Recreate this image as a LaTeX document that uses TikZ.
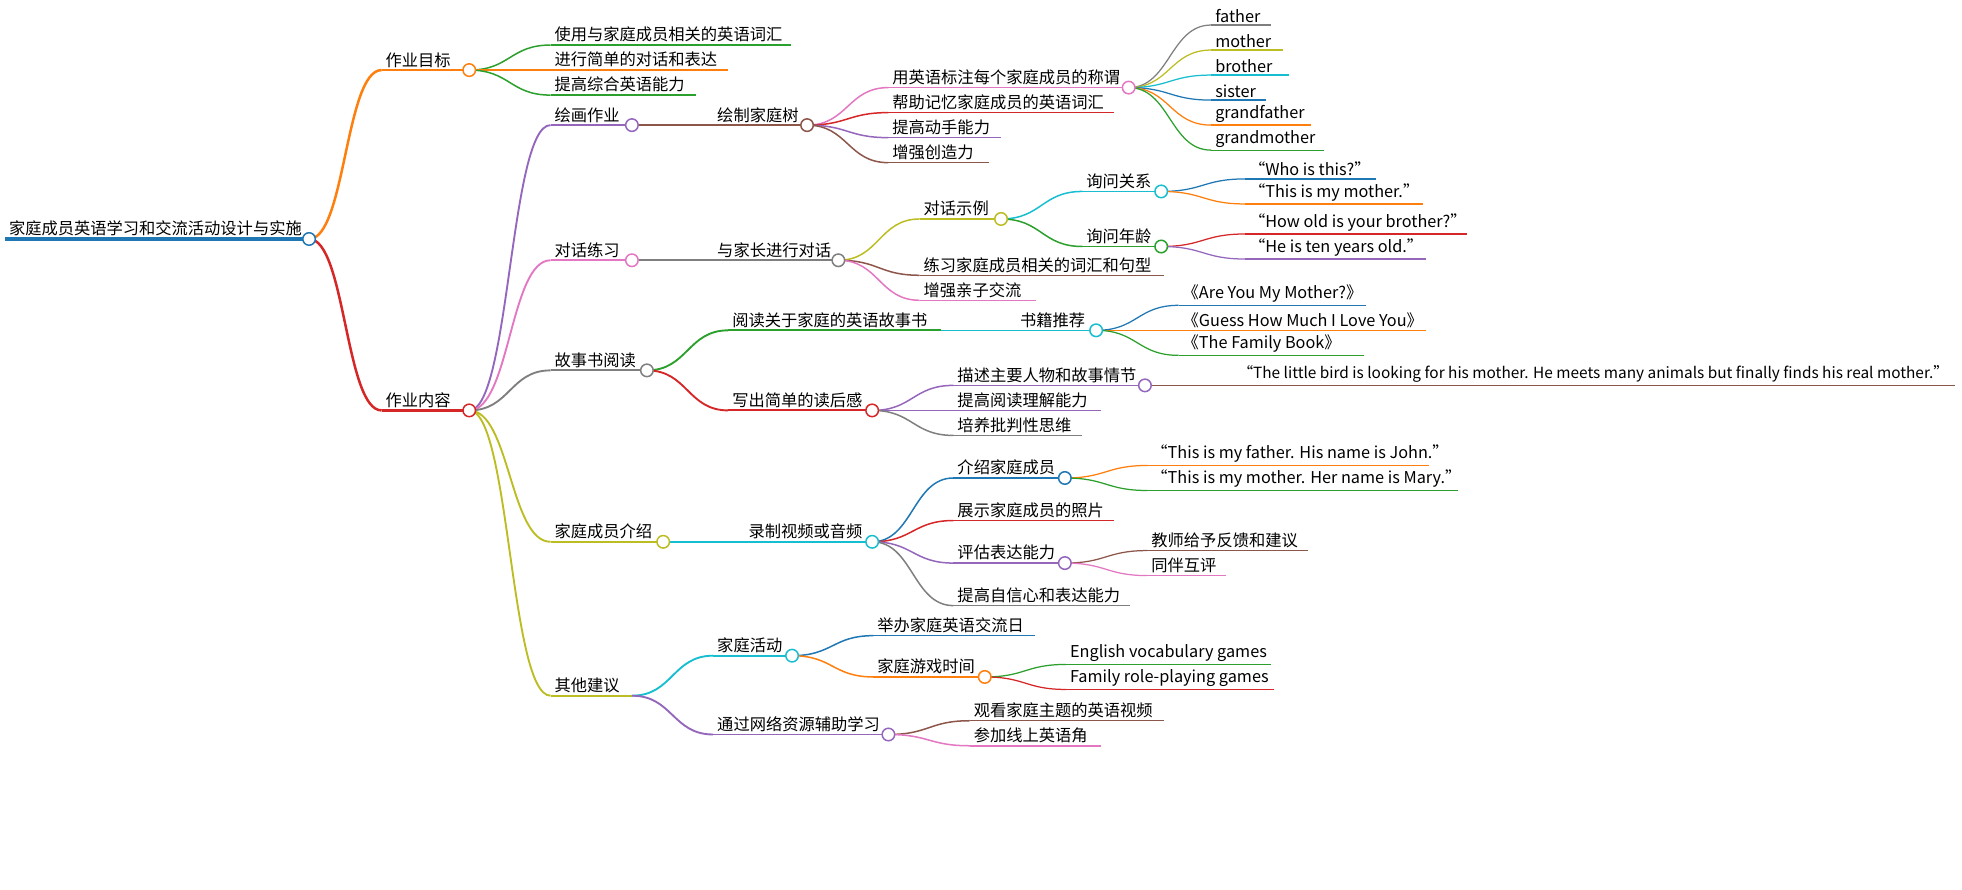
\documentclass[tikz,border=0pt]{standalone}
\usepackage{fontspec}
\setmainfont{Noto Sans CJK SC}
\usetikzlibrary{calc}
\definecolor{cB}{HTML}{1F77B4}\definecolor{cO}{HTML}{FF7F0E}\definecolor{cG}{HTML}{2CA02C}
\definecolor{cR}{HTML}{D62728}\definecolor{cP}{HTML}{9467BD}\definecolor{cN}{HTML}{8C564B}
\definecolor{cK}{HTML}{E377C2}\definecolor{cA}{HTML}{7F7F7F}\definecolor{cL}{HTML}{BCBD22}
\definecolor{cC}{HTML}{17BECF}
% #1 width, #2 name, #3 parent, #4 x1, #5 x2, #6 y, #7 color, #8 text, #9 unused
\newcommand\mmn[9]{%
  \coordinate (#2-s) at (#4,#6); \coordinate (#2-e) at (#5,#6);
  \node[txt] (#2) at (#4,#6) {#8};
  \draw[#7,line width=#1] (#2-s) -- (#2-e);
  \ifx&#3&\else
  \path let \p1=(#3-e), \p2=(#2-s) in
    \pgfextra{\pgfmathsetmacro\mx{(\x1+\x2)/2}}
    [draw=#7,line width=#1] (\p1) .. controls (\mx pt,\y1) and (\mx pt,\y2) .. (\p2);
  \fi
}
\begin{document}
\begin{tikzpicture}[x=1pt,y=-1pt,
  txt/.style={anchor=south west,inner xsep=3pt,inner ysep=2pt,font=\fontsize{13}{15}\selectfont,text=black},
  dot/.style={circle,fill=white,line width=1.2pt,minimum size=10pt,inner sep=0pt}]
\useasboundingbox (0,0) rectangle (1568,711);
\mmn{3pt}{root}{}{4}{247}{191}{cB}{家庭成员英语学习和交流活动设计与实施}{0}
\mmn{2pt}{a}{root}{305}{375}{56}{cO}{作业目标}{0}
\mmn{1.2pt}{a1}{a}{440}{632}{36}{cG}{使用与家庭成员相关的英语词汇}{0}
\mmn{1.2pt}{a2}{a}{440}{582}{56}{cO}{进行简单的对话和表达}{0}
\mmn{1.2pt}{a3}{a}{440}{556}{76}{cG}{提高综合英语能力}{0}
\mmn{2pt}{b}{root}{305}{375}{328}{cR}{作业内容}{0}
% 绘画
\mmn{1.5pt}{b1}{b}{440}{505}{100}{cP}{绘画作业}{0}
\mmn{1.5pt}{b11}{b1}{570}{645}{100}{cN}{绘制家庭树}{0}
\mmn{1.2pt}{p1}{b11}{710}{902}{70}{cK}{用英语标注每个家庭成员的称谓}{0}
\mmn{1pt}{f1}{p1}{968}{1016}{20}{cA}{father}{0}
\mmn{1pt}{f2}{p1}{968}{1025}{40}{cL}{mother}{0}
\mmn{1pt}{f3}{p1}{968}{1030}{60}{cC}{brother}{0}
\mmn{1pt}{f4}{p1}{968}{1012}{80}{cB}{sister}{0}
\mmn{1pt}{f5}{p1}{968}{1048}{100}{cO}{grandfather}{0}
\mmn{1pt}{f6}{p1}{968}{1058}{120}{cG}{grandmother}{0}
\mmn{1.2pt}{p2}{b11}{710}{890}{90}{cR}{帮助记忆家庭成员的英语词汇}{0}
\mmn{1.2pt}{p3}{b11}{710}{800}{110}{cP}{提高动手能力}{0}
\mmn{1.2pt}{p4}{b11}{710}{790}{130}{cN}{增强创造力}{0}
% 对话
\mmn{1.5pt}{b2}{b}{440}{505}{208}{cK}{对话练习}{0}
\mmn{1.5pt}{b21}{b2}{570}{670}{208}{cA}{与家长进行对话}{0}
\mmn{1.2pt}{q1}{b21}{735}{800}{175}{cL}{对话示例}{0}
\mmn{1.2pt}{q11}{q1}{865}{928}{153}{cC}{询问关系}{0}
\mmn{1pt}{q111}{q11}{995}{1100}{143}{cB}{“Who is this?”}{0}
\mmn{1pt}{q112}{q11}{995}{1137}{163}{cO}{“This is my mother.”}{0}
\mmn{1.2pt}{q12}{q1}{865}{928}{197}{cG}{询问年龄}{0}
\mmn{1pt}{q121}{q12}{995}{1172}{187}{cR}{“How old is your brother?”}{0}
\mmn{1pt}{q122}{q12}{995}{1140}{207}{cP}{“He is ten years old.”}{0}
\mmn{1.2pt}{q2}{b21}{735}{930}{220}{cN}{练习家庭成员相关的词汇和句型}{0}
\mmn{1.2pt}{q3}{b21}{735}{828}{240}{cK}{增强亲子交流}{0}
% 故事书
\mmn{1.5pt}{b3}{b}{440}{517}{296}{cA}{故事书阅读}{0}
\mmn{1.5pt}{r1}{b3}{582}{752}{264}{cG}{阅读关于家庭的英语故事书}{0}
\mmn{1.2pt}{r11}{r1}{812}{876}{264}{cC}{书籍推荐}{0}
\mmn{1pt}{r111}{r11}{942}{1092}{244}{cB}{《Are You My Mother?》}{0}
\mmn{1pt}{r112}{r11}{942}{1140}{264}{cO}{《Guess How Much I Love You》}{0}
\mmn{1pt}{r113}{r11}{942}{1090}{284}{cG}{《The Family Book》}{0}
\mmn{1.5pt}{r2}{b3}{582}{697}{328}{cR}{写出简单的读后感}{0}
\mmn{1.2pt}{r21}{r2}{762}{915}{308}{cP}{描述主要人物和故事情节}{0}
\mmn{1pt}{r211}{r21}{980}{1562}{308}{cN}{\hspace{6pt}\fontsize{12.3}{15}\selectfont“The little bird is looking for his mother. He meets many animals but finally finds his real mother.”}{0}
\mmn{1.2pt}{r22}{r2}{762}{880}{328}{cP}{提高阅读理解能力}{0}
\mmn{1.2pt}{r23}{r2}{762}{865}{348}{cA}{培养批判性思维}{0}
% 介绍
\mmn{1.5pt}{b4}{b}{440}{530}{433}{cL}{家庭成员介绍}{0}
\mmn{1.5pt}{s1}{b4}{595}{697}{433}{cC}{录制视频或音频}{0}
\mmn{1.2pt}{s11}{s1}{762}{851}{382}{cB}{介绍家庭成员}{0}
\mmn{1pt}{s111}{s11}{917}{1142}{372}{cO}{“This is my father. His name is John.”}{0}
\mmn{1pt}{s112}{s11}{917}{1165}{392}{cG}{“This is my mother. Her name is Mary.”}{0}
\mmn{1.2pt}{s12}{s1}{762}{890}{416}{cR}{展示家庭成员的照片}{0}
\mmn{1.2pt}{s13}{s1}{762}{851}{450}{cP}{评估表达能力}{0}
\mmn{1pt}{s131}{s13}{917}{1045}{440}{cN}{教师给予反馈和建议}{0}
\mmn{1pt}{s132}{s13}{917}{980}{460}{cK}{同伴互评}{0}
\mmn{1.2pt}{s14}{s1}{762}{903}{484}{cA}{提高自信心和表达能力}{0}
% 其他
\mmn{1.5pt}{b5}{b}{440}{505}{556}{cL}{其他建议}{0}
\mmn{1.5pt}{t1}{b5}{570}{633}{524}{cC}{家庭活动}{0}
\mmn{1.2pt}{t11}{t1}{698}{827}{508}{cB}{举办家庭英语交流日}{0}
\mmn{1.2pt}{t12}{t1}{698}{787}{541}{cO}{家庭游戏时间}{0}
\mmn{1pt}{t121}{t12}{852}{1016}{531}{cG}{English vocabulary games}{0}
\mmn{1pt}{t122}{t12}{852}{1018}{551}{cR}{Family role-playing games}{0}
\mmn{1.5pt}{t2}{b5}{570}{710}{587}{cP}{通过网络资源辅助学习}{0}
\mmn{1.2pt}{t21}{t2}{775}{930}{576}{cN}{观看家庭主题的英语视频}{0}
\mmn{1.2pt}{t22}{t2}{775}{880}{596}{cK}{参加线上英语角}{0}
% circles
\foreach \n/\c in {root/cB,a/cO,b/cR,b1/cP,b11/cN,p1/cK,b2/cK,b21/cA,q1/cL,q11/cC,q12/cG,b3/cA,r11/cC,r2/cR,r21/cP,b4/cL,s1/cC,s11/cB,s13/cP,t1/cC,t12/cO,t2/cP}
  \node[dot,draw=\c] at (\n-e) {};
\end{tikzpicture}
\end{document}
